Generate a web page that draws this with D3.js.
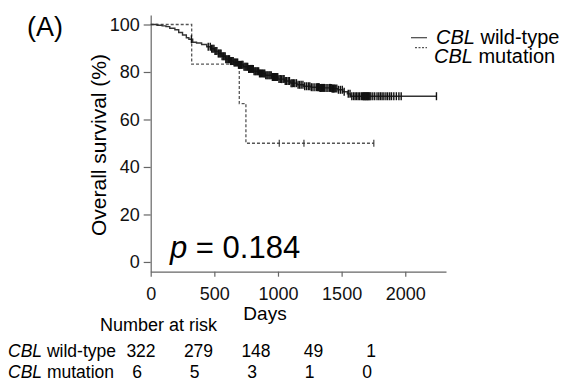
<!DOCTYPE html>
<html>
<head>
<meta charset="utf-8">
<script src="https://cdn.jsdelivr.net/npm/d3@7"></script>
<style>
  body { margin: 0; background: #fff; }
  svg { display: block; font-family: "Liberation Sans", Arial, sans-serif; }
  .axis path, .axis line { stroke: #666; stroke-width: 1.2; }
  .axis text { font-size: 18px; fill: #111; font-family: "Liberation Sans", Arial, sans-serif; }
</style>
</head>
<body>
<div id="chart"></div>
<script>
// Kaplan-Meier steps: [day, survival %]
var wildSteps = [
  [0, 100], [50, 99.7], [90, 99.4], [120, 99.1], [150, 98.4], [190, 97.8], [220, 96.6],
  [250, 95.6], [280, 94.4], [300, 93.8], [330, 92.5], [360, 92.2], [400, 91.6], [440, 90.6],
  [470, 89.8], [500, 88.8], [530, 87.8], [560, 86.6], [590, 85.4], [620, 84.6], [650, 84.0],
  [690, 83.0], [730, 82.2], [770, 81.3], [810, 80.3], [850, 79.4], [900, 78.6], [950, 77.9],
  [1000, 77.0], [1050, 76.2], [1100, 75.3], [1150, 74.6], [1200, 74.0], [1260, 73.6],
  [1330, 73.3], [1420, 73.0], [1470, 72.5], [1510, 71.7], [1545, 70.8], [1570, 69.8]
];
var wildEnd = 2245;
var wildCensor = [
  320, 452, 468, 479, 488, 497, 505, 512, 520, 531, 538, 546, 553, 561, 570, 577, 585, 590,
  598, 606, 612, 619, 627, 634, 640, 648, 655, 661, 668, 676, 683, 690, 697, 704, 712, 718,
  725, 733, 741, 748, 755, 762, 770, 778, 785, 792, 799, 806, 812, 820, 826, 834, 841, 848,
  855, 862, 871, 879, 888, 896, 904, 913, 921, 930, 938, 947, 956, 964, 972, 981, 990, 998,
  1008, 1018, 1029, 1040, 1048, 1057, 1068, 1080, 1090, 1103, 1112, 1121, 1132, 1145, 1158,
  1170, 1182, 1196, 1210, 1224, 1238, 1250, 1262, 1275, 1290, 1304, 1312, 1318, 1324, 1330,
  1336, 1342, 1350, 1358, 1366, 1378, 1392, 1404, 1412, 1418, 1424, 1430, 1436, 1442, 1450,
  1462, 1475, 1490, 1505, 1520, 1552, 1566, 1580, 1594, 1606, 1618, 1630, 1642, 1655, 1664,
  1670, 1675, 1680, 1685, 1690, 1695, 1700, 1705, 1710, 1716, 1722, 1730, 1745, 1760, 1778,
  1792, 1805, 1818, 1832, 1848, 1862, 1878, 1892, 1910, 1930, 1950, 1968, 2245
];
var mutSteps = [[0, 100], [322, 83.3], [696, 66.7], [748, 50]];
var mutEnd = 1753;
var mutCensor = [1010, 1204, 1753];

var xTicks = [0, 500, 1000, 1500, 2000];
var yTicks = [0, 20, 40, 60, 80, 100];
var groups = ["wild-type", "mutation"];
var riskWild = [322, 279, 148, 49, 1];
var riskMut = [6, 5, 3, 1, 0];
var pText = "0.184";

var width = 571, height = 384;
var svg = d3.select("#chart").append("svg")
    .attr("width", width)
    .attr("height", height);

var x = d3.scaleLinear().domain([0, 2320]).range([150.7, 446]);
var y = d3.scaleLinear().domain([-4.1, 104]).range([271.7, 15]);

// axes
svg.append("g")
    .attr("class", "axis")
    .attr("transform", "translate(0,271.7)")
    .call(d3.axisBottom(x).tickValues(xTicks).tickFormat(d3.format("d"))
        .tickSize(5).tickSizeOuter(0).tickPadding(10.5));

svg.append("g")
    .attr("class", "axis")
    .attr("transform", "translate(150.7,0)")
    .call(d3.axisLeft(y).tickValues(yTicks).tickSize(7).tickSizeOuter(0).tickPadding(4));

// curves
function survAt(steps, t) {
    var i = d3.bisector(function (d) { return d[0]; }).right(steps, t) - 1;
    return steps[Math.max(i, 0)][1];
}
var line = d3.line()
    .x(function (d) { return x(d[0]); })
    .y(function (d) { return y(d[1]); })
    .curve(d3.curveStepAfter);

svg.append("path")
    .datum(mutSteps.concat([[mutEnd, mutSteps[mutSteps.length - 1][1]]]))
    .attr("d", line)
    .attr("fill", "none")
    .attr("stroke", "#555")
    .attr("stroke-width", 1.3)
    .attr("stroke-dasharray", "3,2");

svg.append("path")
    .datum(wildSteps.concat([[wildEnd, wildSteps[wildSteps.length - 1][1]]]))
    .attr("d", line)
    .attr("fill", "none")
    .attr("stroke", "#333")
    .attr("stroke-width", 1.4);

// censor marks
function censorMarks(times, steps, color, h, w) {
    svg.append("g").selectAll("line")
        .data(times)
        .enter().append("line")
        .attr("x1", function (d) { return x(d); })
        .attr("x2", function (d) { return x(d); })
        .attr("y1", function (d) { return y(survAt(steps, d)) - h; })
        .attr("y2", function (d) { return y(survAt(steps, d)) + h; })
        .attr("stroke", color)
        .attr("stroke-width", w);
}
censorMarks(wildCensor, wildSteps, "#111", 4, 1.4);
censorMarks(mutCensor, mutSteps, "#333", 3.5, 1.1);

// labels
svg.append("text")
    .attr("x", 27).attr("y", 36)
    .style("font-size", "27px")
    .text("(A)");

svg.append("text")
    .attr("transform", "translate(106,145) rotate(-90)")
    .attr("text-anchor", "middle")
    .style("font-size", "21px")
    .text("Overall survival (%)");

svg.append("text")
    .attr("x", 265).attr("y", 319.5)
    .attr("text-anchor", "middle")
    .style("font-size", "19px")
    .text("Days");

var pv = svg.append("text")
    .attr("x", 170).attr("y", 258)
    .style("font-size", "31px");
pv.append("tspan").style("font-style", "italic").text("p");
pv.append("tspan").text(" = " + pText);

// legend
var legend = svg.append("g");
legend.append("line")
    .attr("x1", 411).attr("x2", 427).attr("y1", 37.7).attr("y2", 37.7)
    .attr("stroke", "#444").attr("stroke-width", 1.2);
legend.append("line")
    .attr("x1", 415).attr("x2", 427).attr("y1", 47.7).attr("y2", 47.7)
    .attr("stroke", "#555").attr("stroke-width", 1.2).attr("stroke-dasharray", "2,1.5");
groups.forEach(function (g, i) {
    var t = legend.append("text")
        .attr("x", i ? 434 : 436).attr("y", 44 + i * 18.5)
        .style("font-size", "20px");
    t.append("tspan").style("font-style", "italic").text("CBL");
    t.append("tspan").text(" " + g);
});

// number at risk table
svg.append("text")
    .attr("x", 100).attr("y", 331)
    .style("font-size", "18px")
    .text("Number at risk");

var col = d3.scalePoint().domain(d3.range(riskWild.length)).range([141, 371]);
[riskWild, riskMut].forEach(function (row, r) {
    var yy = 357 + r * 21;
    var lab = svg.append("text")
        .attr("x", 8).attr("y", yy)
        .style("font-size", "17.5px");
    lab.append("tspan").style("font-style", "italic").text("CBL");
    lab.append("tspan").text(" " + groups[r]);
    svg.append("g").selectAll("text")
        .data(row)
        .enter().append("text")
        .attr("x", function (d, i) { return col(i) - (r ? 4 : 0); })
        .attr("y", yy)
        .attr("text-anchor", "middle")
        .style("font-size", "17.5px")
        .text(function (d) { return d; });
});
</script>
</body>
</html>
